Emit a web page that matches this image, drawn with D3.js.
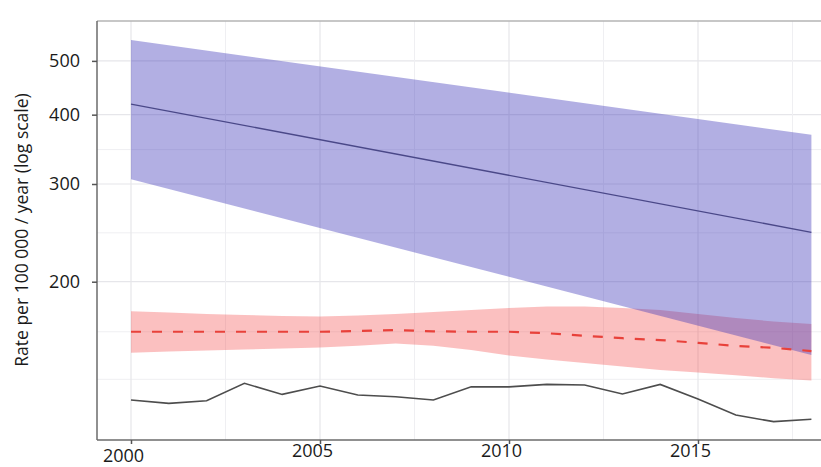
<!DOCTYPE html>
<html>
<head>
<meta charset="utf-8">
<script src="https://cdn.jsdelivr.net/npm/d3@7"></script>
<style>
  html, body { margin: 0; padding: 0; background: #fff; }
  svg { display: block; }
  text { font-family: "Open Sans", "Noto Sans", sans-serif; fill: #1a1a1a; }
</style>
</head>
<body>
<svg id="chart" width="821" height="467"></svg>
<script>
// ---- data ----
const trendYears = [2000, 2018];
const trendUpper = [545, 368];
const trendCenter = [418, 245.5];
const trendLower = [306, 147.6];

const years = [2000, 2001, 2002, 2003, 2004, 2005, 2006, 2007, 2008, 2009,
               2010, 2011, 2012, 2013, 2014, 2015, 2016, 2017, 2018];
const expectedCenter = [162.5, 162.5, 162.5, 162.5, 162.5, 162.5, 163, 163.6, 162.8, 162.5,
                        162.5, 161.5, 159.8, 158.2, 157, 155.2, 153.2, 152, 150];
const expectedUpper = [177, 176, 174.9, 174.2, 173.5, 173.2, 173.8, 174.9, 176.4, 177.8,
                       179.4, 180.5, 180.5, 179.4, 177.8, 174.9, 172, 169.6, 167.8];
const expectedLower = [149, 149.7, 150.3, 150.9, 151.6, 152.2, 153.4, 154.8, 153.4, 150.6,
                       147.2, 144.8, 142.8, 140.7, 138.7, 137.2, 135.6, 134, 132.7];
const observed = [122.4, 120.7, 122, 131.2, 125.3, 129.7, 125, 124.1, 122.4, 129.3,
                  129.3, 130.6, 130.3, 125.5, 130.6, 122.9, 115, 111.9, 113];

const yTicks = [200, 300, 400, 500];
const yMinorGrid = [133.4, 162.5, 245, 346];
const xTicks = [2000, 2005, 2010, 2015];
const xMinorGrid = [2002.5, 2007.5, 2012.5, 2017.5];
const yTitle = "Rate per 100 000 / year (log scale)";

// ---- layout ----
const svg = d3.select("#chart");
const pLeft = 97, pRight = 821, pTop = 21, pBottom = 440;

const x = d3.scaleLinear().domain([2000, 2018]).range([131, 811.4]);
const y = d3.scaleLog().domain([103.7, 590]).range([pBottom, pTop]);

// gridlines
const grid = svg.append("g");
grid.selectAll(".hmaj").data(yTicks).join("line")
  .attr("x1", pLeft).attr("x2", pRight)
  .attr("y1", d => y(d)).attr("y2", d => y(d))
  .attr("stroke", "#e6e6ea").attr("stroke-width", 1.2);
grid.selectAll(".hmin").data(yMinorGrid).join("line")
  .attr("x1", pLeft).attr("x2", pRight)
  .attr("y1", d => y(d)).attr("y2", d => y(d))
  .attr("stroke", "#efeff2").attr("stroke-width", 1);
grid.selectAll(".vmaj").data(xTicks).join("line")
  .attr("x1", d => x(d)).attr("x2", d => x(d))
  .attr("y1", pTop).attr("y2", pBottom)
  .attr("stroke", "#e6e6ea").attr("stroke-width", 1.2);
grid.selectAll(".vmin").data(xMinorGrid).join("line")
  .attr("x1", d => x(d)).attr("x2", d => x(d))
  .attr("y1", pTop).attr("y2", pBottom)
  .attr("stroke", "#efeff2").attr("stroke-width", 1);

// pink expected band
const expData = years.map((yr, i) => ({yr, c: expectedCenter[i], u: expectedUpper[i], l: expectedLower[i], o: observed[i]}));
svg.append("path").datum(expData)
  .attr("d", d3.area().x(d => x(d.yr)).y0(d => y(d.l)).y1(d => y(d.u)))
  .attr("fill", "#f43a3a").attr("fill-opacity", 0.32);

// purple trend band
const trData = trendYears.map((yr, i) => ({yr, u: trendUpper[i], c: trendCenter[i], l: trendLower[i]}));
svg.append("path").datum(trData)
  .attr("d", d3.area().x(d => x(d.yr)).y0(d => y(d.l)).y1(d => y(d.u)))
  .attr("fill", "#3e37b8").attr("fill-opacity", 0.4);

svg.append("path").datum(trData)
  .attr("d", d3.line().x(d => x(d.yr)).y(d => y(d.c)))
  .attr("fill", "none").attr("stroke", "#4a4888").attr("stroke-width", 1.3);

// expected dashed line
svg.append("path").datum(expData)
  .attr("d", d3.line().x(d => x(d.yr)).y(d => y(d.c)))
  .attr("fill", "none").attr("stroke", "#e8413a").attr("stroke-width", 2.2)
  .attr("stroke-dasharray", "10,11");

// observed line
svg.append("path").datum(expData)
  .attr("d", d3.line().x(d => x(d.yr)).y(d => y(d.o)))
  .attr("fill", "none").attr("stroke", "#4d4d4d").attr("stroke-width", 1.6);

// frame: top border
svg.append("line").attr("x1", pLeft).attr("x2", pRight).attr("y1", pTop).attr("y2", pTop)
  .attr("stroke", "#b5b5b5").attr("stroke-width", 1.5);

// axes
const yAxis = svg.append("g").attr("transform", `translate(${pLeft},0)`)
  .call(d3.axisLeft(y).tickValues(yTicks).tickFormat(d3.format("d")).tickSize(5).tickPadding(12));
yAxis.select(".domain").attr("stroke", "#6b6b6b").attr("stroke-width", 1.5)
  .attr("d", `M0,${pTop}V${pBottom}`);
yAxis.selectAll(".tick line").attr("stroke", "#555").attr("stroke-width", 1.5);
yAxis.selectAll(".tick text").style("font-size", "18px").attr("fill", "#1a1a1a");

const xAxis = svg.append("g").attr("transform", `translate(0,${pBottom})`)
  .call(d3.axisBottom(x).tickValues(xTicks).tickFormat(d3.format("d")).tickSize(4).tickPadding(5));
xAxis.select(".domain").attr("stroke", "#6b6b6b").attr("stroke-width", 1.5)
  .attr("d", `M${pLeft},0H${pRight}`);
xAxis.selectAll(".tick line").attr("stroke", "#555").attr("stroke-width", 1.5);
xAxis.selectAll(".tick text").style("font-size", "18px").attr("fill", "#1a1a1a")
  .attr("dx", -8)
  .attr("y", (d, i) => i === 0 ? 9 : 4);

// y title
svg.append("text")
  .attr("transform", `translate(28,230) rotate(-90)`)
  .attr("text-anchor", "middle")
  .style("font-size", "17.5px")
  .text(yTitle);
</script>
</body>
</html>
